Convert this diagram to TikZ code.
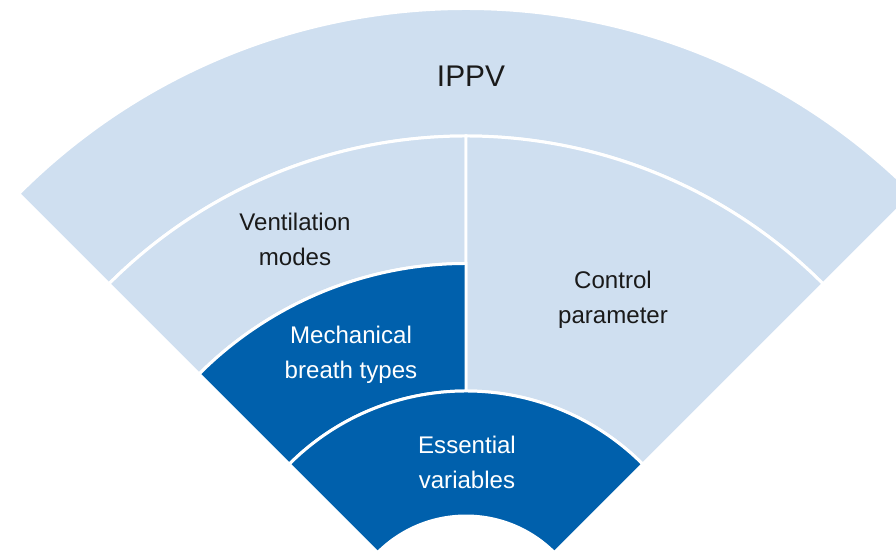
\documentclass[tikz,border=0pt]{standalone}
\usepackage{fontspec}
\setmainfont{Liberation Sans}
\usepackage{xcolor}
\usepackage{tikz}
\usetikzlibrary{positioning}

\definecolor{paleblue}{RGB}{207,223,240}
\definecolor{deepblue}{RGB}{0,96,172}
\definecolor{inkgray}{RGB}{26,26,26}

\begin{document}
\begin{tikzpicture}[
    band/.style={fill=paleblue, draw=white, line width=1.7pt, line join=miter},
    darkband/.style={fill=deepblue, draw=white, line width=1.7pt, line join=miter},
    lighttext/.style={align=center, text=inkgray, font=\fontsize{13.7}{20}\selectfont},
    darktext/.style={align=center, text=white, font=\fontsize{13.7}{20}\selectfont}
]
\clip (-9.32,1.76) rectangle (8.6,12.82);
\useasboundingbox (-9.32,1.76) rectangle (8.6,12.82);
% outer ring
\draw[band] (45:12.65) arc[start angle=45, end angle=135, radius=12.65]
  -- (135:10.1) arc[start angle=135, end angle=45, radius=10.1] -- cycle;
% second ring, left and right
\draw[band] (90:10.1) arc[start angle=90, end angle=135, radius=10.1]
  -- (135:7.55) arc[start angle=135, end angle=90, radius=7.55] -- cycle;
\draw[band] (45:10.1) arc[start angle=45, end angle=90, radius=10.1]
  -- (90:5.0) arc[start angle=90, end angle=45, radius=5.0] -- cycle;
% dark inner parts
\draw[darkband] (90:7.55) arc[start angle=90, end angle=135, radius=7.55]
  -- (135:5.0) arc[start angle=135, end angle=90, radius=5.0] -- cycle;
\draw[darkband] (45:5.0) arc[start angle=45, end angle=135, radius=5.0]
  -- (135:2.5) arc[start angle=135, end angle=45, radius=2.5] -- cycle;
% labels
\node[font=\fontsize{17}{20}\selectfont, text=inkgray] (ippv) at (0.1,11.3) {IPPV};
\node[lighttext] (modes) at (-3.42,8.04) {Ventilation\\modes};
\node[lighttext] (control) at (2.94,6.82) {Control\\parameter};
\node[darktext] (breath) at (-2.3,5.72) {Mechanical\\breath types};
\node[darktext] (essential) at (0.02,3.58) {Essential\\variables};
\end{tikzpicture}
\end{document}
